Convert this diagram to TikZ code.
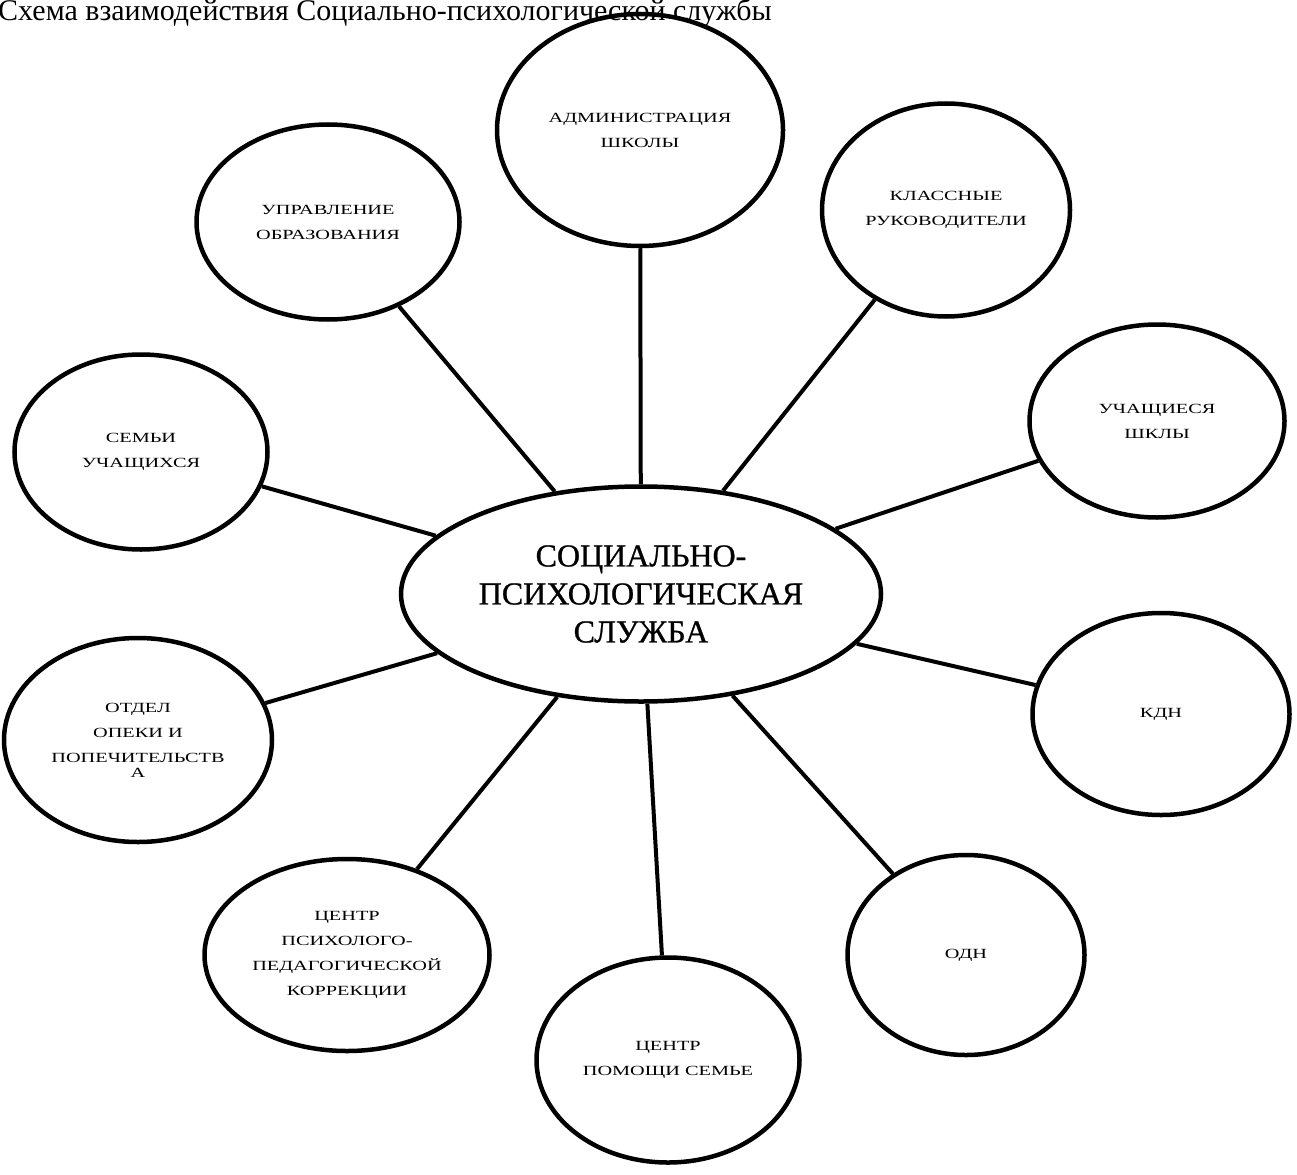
\documentclass[tikz,border=0pt]{standalone}
\usepackage{fontspec}
\setmainfont{Liberation Serif}
\newfontfamily\serifont{Liberation Serif}
\newfontfamily\hubfont[FakeBold=0.8]{Liberation Serif}
\newfontfamily\widefont[FakeStretch=1.45]{Liberation Serif}
\usetikzlibrary{shapes.geometric}

\begin{document}
\begin{tikzpicture}[x=1pt,y=-1pt,
    sat/.style={draw,ellipse,line width=4.5pt,inner sep=0pt,align=center,
      minimum width=262pt,minimum height=200pt,font=\widefont\fontsize{14}{25}\selectfont},
    hub/.style={draw,ellipse,line width=4.5pt,inner sep=0pt,align=center,
      minimum width=480pt,minimum height=215pt,font=\hubfont\fontsize{32}{38}\selectfont},
    link/.style={line width=4pt}]
\useasboundingbox (0,0) rectangle (1297,1174);
\node[anchor=base west,inner sep=0pt,font=\serifont\fontsize{30}{34}\selectfont] (title) at (-2,21)
  {Схема взаимодействия Социально-психологической службы};
\node[hub] (hub) at (641,594) {СОЦИАЛЬНО-\\ПСИХОЛОГИЧЕСКАЯ\\СЛУЖБА};
\node[sat,minimum width=286pt,minimum height=232pt] (admin) at (640,130) {АДМИНИСТРАЦИЯ\\ШКОЛЫ};
\node[sat,minimum width=263pt,minimum height=195pt] (upr) at (328,222) {УПРАВЛЕНИЕ\\ОБРАЗОВАНИЯ};
\node[sat,minimum width=248pt,minimum height=213pt] (klass) at (946,210) {КЛАССНЫЕ\\РУКОВОДИТЕЛИ};
\node[sat,minimum width=255pt,minimum height=193pt] (uch) at (1157,421) {УЧАЩИЕСЯ\\ШКЛЫ};
\node[sat,minimum width=253pt,minimum height=195pt] (sem) at (141,452) {СЕМЬИ\\УЧАЩИХСЯ};
\node[sat,minimum width=257pt,minimum height=202pt] (kdn) at (1161,714) {КДН};
\node[sat,minimum width=268pt,minimum height=204pt] (opeka) at (138,740)
  {ОТДЕЛ\\ОПЕКИ И\\ПОПЕЧИТЕЛЬСТВ\\[-10pt]А};
\node[sat,minimum width=285pt,minimum height=192pt] (ppk) at (347,955)
  {ЦЕНТР\\ПСИХОЛОГО-\\ПЕДАГОГИЧЕСКОЙ\\КОРРЕКЦИИ};
\node[sat,minimum width=263pt,minimum height=205pt] (pomosh) at (668,1060) {ЦЕНТР\\ПОМОЩИ СЕМЬЕ};
\node[sat,minimum width=237pt,minimum height=200pt] (odn) at (966,955) {ОДН};
\foreach \n in {admin,upr,klass,uch,sem,kdn,opeka,ppk,pomosh,odn}
  \draw[link] (hub) -- (\n);
\end{tikzpicture}
\end{document}
